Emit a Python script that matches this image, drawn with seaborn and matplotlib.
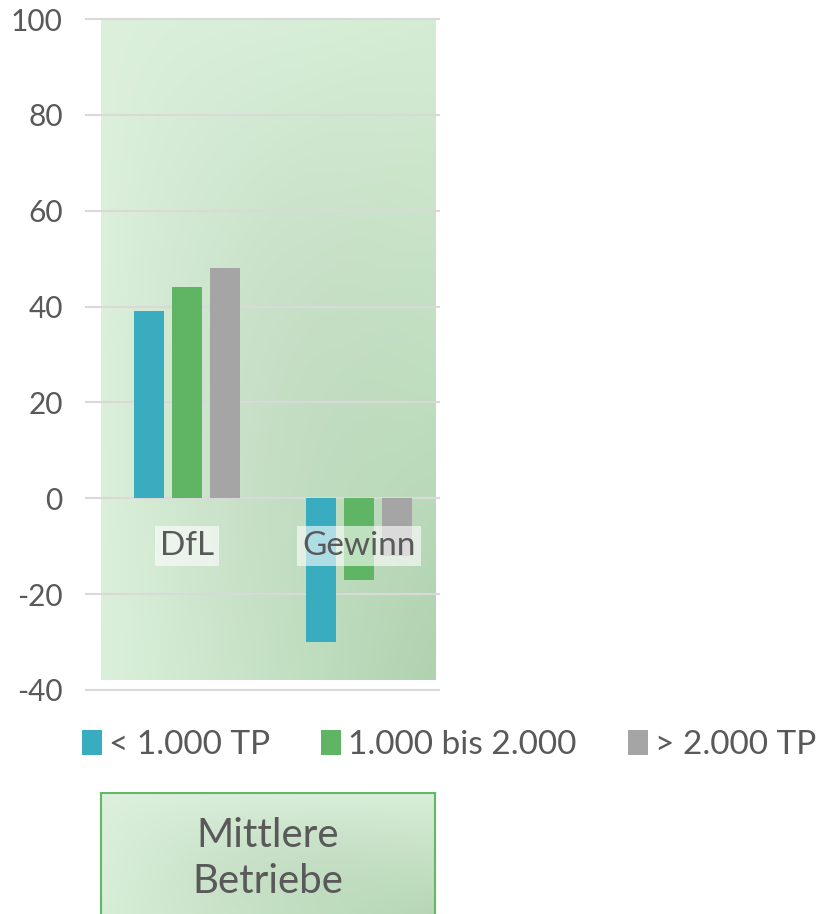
import numpy as np
import pandas as pd
import matplotlib.pyplot as plt
import matplotlib.colors as mcolors
import seaborn as sns

# data
categories = ["DfL", "Gewinn"]
groups = ["< 1.000 TP", "1.000 bis 2.000", "> 2.000 TP"]
values_small = [39, -30]
values_mid = [44, -17]
values_large = [48, -12]
bar_colors = ["#3aacbf", "#5fb563", "#a5a5a5"]
y_ticks = [100, 80, 60, 40, 20, 0, -20, -40]
box_label = "Mittlere\nBetriebe"

df = pd.DataFrame({
    "kategorie": categories * 3,
    "gruppe": [g for g in groups for _ in categories],
    "wert": values_small + values_mid + values_large,
})

sns.set_theme(style="white")
plt.rcParams["font.family"] = ["Lato", "DejaVu Sans"]
plt.rcParams["axes.unicode_minus"] = False
TEXT = "#595959"


def gradient(tl, tr, bl, br, n=200):
    """bilinear colour gradient between four corner colours"""
    c = [np.array(mcolors.to_rgb(x)) for x in (tl, tr, bl, br)]
    yy, xx = np.mgrid[0:1:n * 1j, 0:1:n * 1j]
    xx = xx[..., None]
    yy = yy[..., None]
    img = (c[0] * (1 - xx) * (1 - yy) + c[1] * xx * (1 - yy)
           + c[2] * (1 - xx) * yy + c[3] * xx * yy)
    # slightly darker middle
    bump = (np.sin(np.pi * xx) * np.sin(np.pi * yy)) * 0.03
    return np.clip(img - bump, 0, 1)


fig = plt.figure(figsize=(8.19, 9.14), dpi=100)
top_px, bot_px = 17.1, 691.9
ax = fig.add_axes([85 / 819, 1 - bot_px / 914, (440 - 85) / 819, (bot_px - top_px) / 914])

# green background panel
ax.imshow(gradient("#dcf0dc", "#d4ecd4", "#dbf0db", "#afd2af"),
          extent=(-0.5, 1.442, -38, 99.8), aspect="auto", zorder=0)

sns.barplot(data=df, x="kategorie", y="wert", hue="gruppe", palette=bar_colors,
            width=0.663, gap=0.21, saturation=1, linewidth=0, ax=ax, zorder=2)

handles, labels = ax.get_legend_handles_labels()
ax.get_legend().remove()

ax.set_xlim(-0.593, 1.471)
ax.set_ylim(-40.4, 100.4)
ax.set_yticks(y_ticks)
ax.set_xticks([])
ax.set_xlabel("")
ax.set_ylabel("")
ax.set_axisbelow(True)
ax.yaxis.grid(True, color="#d9d9d9", linewidth=1.5, zorder=1)
ax.tick_params(axis="y", length=0, pad=16, labelsize=21.5, labelcolor=TEXT)
for s in ax.spines.values():
    s.set_visible(False)

for i, cat in enumerate(categories):
    ax.text(i, -10, cat, ha="center", va="center", fontsize=24, color=TEXT, zorder=5,
            bbox=dict(boxstyle="square,pad=0.15", fc="white", ec="none", alpha=0.6))

fig.legend(handles, labels, loc="center left", bbox_to_anchor=(82 / 819, 1 - 745 / 914),
           ncol=3, frameon=False, fontsize=24, labelcolor=TEXT, borderpad=0,
           borderaxespad=0, handlelength=0.6, handleheight=0.75, handletextpad=0.2,
           columnspacing=1.55)

# label box at the bottom
ax2 = fig.add_axes([101 / 819, -0.01, 334 / 819, (914 - 793) / 914 + 0.01])
ax2.imshow(gradient("#dcf0dc", "#d8eed8", "#d6edd6", "#b3d5b3"),
           extent=(0, 1, 0, 1), aspect="auto")
ax2.set_xlim(0, 1)
ax2.set_ylim(0, 1)
ax2.set_xticks([])
ax2.set_yticks([])
for s in ax2.spines.values():
    s.set_color("#62b865")
    s.set_linewidth(1.5)
ax2.text(0.5, 0.5, box_label, ha="center", va="center", fontsize=29,
         color=TEXT, linespacing=1.3)

fig.savefig("out.png", dpi=100)
